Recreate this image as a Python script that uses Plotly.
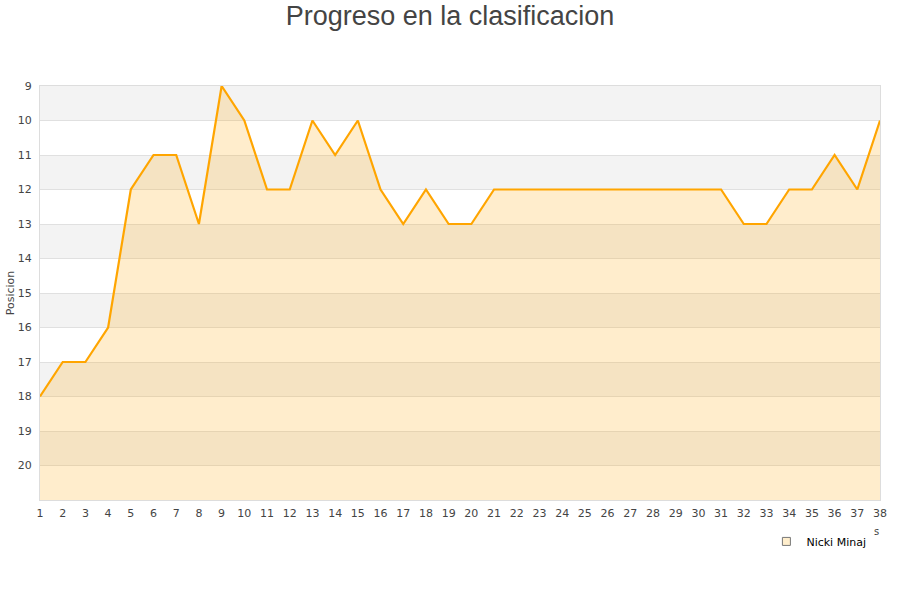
import plotly.graph_objects as go

jornadas = list(range(1, 39))
posicion = [18, 17, 17, 16, 12, 11, 11, 13, 9, 10, 12, 12, 10, 11, 10, 12, 13, 12, 13, 13,
            12, 12, 12, 12, 12, 12, 12, 12, 12, 12, 12, 13, 13, 12, 12, 11, 12, 10]
y_ticks = list(range(9, 21))
y_min, y_max = 9, 21
serie = "Nicki Minaj"

fig = go.Figure()

# baseline for fill
fig.add_trace(go.Scatter(x=jornadas, y=[y_max] * len(jornadas), mode="lines",
                         line=dict(width=0, color="rgba(0,0,0,0)"), showlegend=False,
                         hoverinfo="skip"))
fig.add_trace(go.Scatter(x=jornadas, y=posicion, mode="lines", fill="tonexty",
                         fillcolor="rgba(255,165,0,0.2)",
                         line=dict(color="#ffa500", width=2.2), name=serie, showlegend=False))
# legend entry
fig.add_trace(go.Scatter(x=[None], y=[None], mode="markers", name=serie,
                         marker=dict(symbol="square", size=8, color="#ffeecc",
                                     line=dict(color="#777", width=1))))

shapes = []
for n in range(y_min, y_max, 2):
    shapes.append(dict(type="rect", xref="paper", yref="y", x0=0, x1=1, y0=n, y1=n + 1,
                       fillcolor="#f3f3f3", line=dict(width=0), layer="below"))

fig.update_layout(
    width=900, height=600,
    margin=dict(l=40, r=20, t=86, b=100, autoexpand=False),
    paper_bgcolor="white", plot_bgcolor="white",
    title=dict(text="Progreso en la clasificacion", x=0.5, xanchor="center",
               yref="container", y=1 - 16 / 600, yanchor="middle",
               font=dict(family="Liberation Sans, Arial, sans-serif", size=27, color="#444")),
    font=dict(family="DejaVu Sans, sans-serif", size=11, color="#444"),
    shapes=shapes,
    showlegend=True,
    legend=dict(x=0.985 + 4 / 840, xanchor="right", y=-0.065, yanchor="top",
                bgcolor="rgba(0,0,0,0)", itemwidth=30,
                font=dict(size=11, color="#000")),
    xaxis=dict(range=[1, 38], tickmode="array", tickvals=jornadas, showgrid=False,
               zeroline=False, showline=True, linecolor="#ddd", mirror=True, automargin=False,
               ticks="outside", ticklen=3, tickcolor="rgba(0,0,0,0)",
               tickfont=dict(size=11, color="#444")),
    yaxis=dict(range=[y_max, y_min], tickmode="array", tickvals=y_ticks, showgrid=True,
               gridcolor="#e0e0e0", zeroline=False, showline=True, linecolor="#ddd", mirror=True,
               ticks="outside", ticklen=5, tickcolor="rgba(0,0,0,0)",
               tickfont=dict(size=11, color="#444"), automargin=False,
               title=dict(text="Posicion", font=dict(size=11, color="#444"), standoff=0)),
    annotations=[dict(text="s", xref="paper", yref="paper", x=(876 - 40) / 840,
                      y=-(531 - 500) / 414, showarrow=False,
                      font=dict(size=10, color="#444"), xanchor="center", yanchor="middle")],
)

fig.write_html("out.html", config={"displayModeBar": False},
               post_script="document.body.style.margin='0';")
